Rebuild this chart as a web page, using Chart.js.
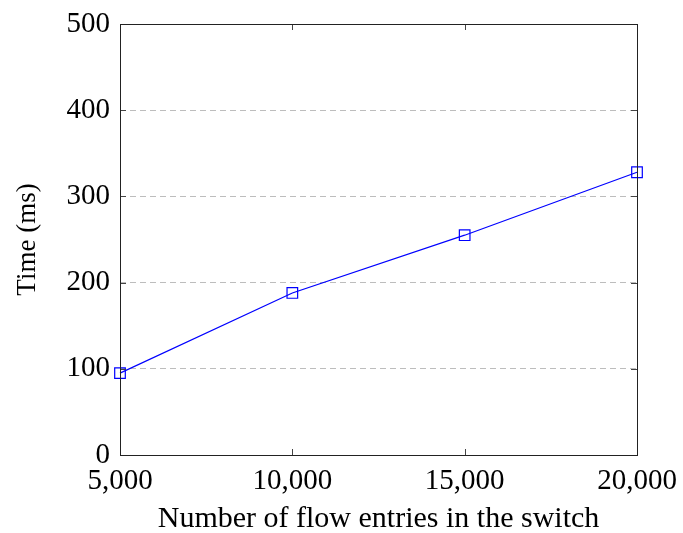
<!DOCTYPE html>
<html>
<head>
<meta charset="utf-8">
<script src="https://cdn.jsdelivr.net/npm/chart.js@4.4.1/dist/chart.umd.min.js"></script>
<style>
  html, body { margin: 0; padding: 0; background: #fff; }
  #wrap { width: 683px; height: 533px; }
</style>
</head>
<body>
<div id="wrap"><canvas id="grafico"></canvas></div>
<script>
// datos
const entradas = [5000, 10000, 15000, 20000];
const tiempos = [95, 188, 255, 328];
const ticksY = [0, 100, 200, 300, 400, 500];
const ticksX = [5000, 10000, 15000, 20000];

const fuente = "'Liberation Serif', 'DejaVu Serif', serif";

// marcas cortas hacia dentro en los cuatro lados
const marcas = {
  id: 'marcas',
  afterDatasetsDraw(chart) {
    const c = chart.ctx;
    const a = chart.chartArea;
    const sx = chart.scales.x, sy = chart.scales.y;
    c.save();
    c.strokeStyle = '#444';
    c.lineWidth = 1;
    c.beginPath();
    ticksX.forEach(v => {
      const px = Math.round(sx.getPixelForValue(v)) + 0.5;
      c.moveTo(px, a.bottom); c.lineTo(px, a.bottom - 6);
      c.moveTo(px, a.top); c.lineTo(px, a.top + 6);
    });
    ticksY.forEach(v => {
      const py = Math.round(sy.getPixelForValue(v)) + 0.5;
      c.moveTo(a.left, py); c.lineTo(a.left + 6, py);
      c.moveTo(a.right, py); c.lineTo(a.right - 6, py);
    });
    c.stroke();
    c.strokeStyle = '#222';
    c.strokeRect(a.left + 0.5, a.top + 0.5, a.right - a.left, a.bottom - a.top);
    c.restore();
  }
};

new Chart(document.getElementById('grafico'), {
  type: 'line',
  data: {
    datasets: [{
      data: entradas.map((x, i) => ({ x: x, y: tiempos[i] })),
      borderColor: 'rgb(0,0,255)',
      borderWidth: 1.2,
      pointStyle: 'rect',
      pointRadius: 7.5,
      pointBorderWidth: 1.2,
      pointBorderColor: 'rgb(0,0,255)',
      pointBackgroundColor: 'rgba(0,0,0,0)',
      tension: 0,
      clip: false
    }]
  },
  options: {
    responsive: true,
    maintainAspectRatio: false,
    animation: false,
    layout: { padding: { top: 24, right: 46, left: 0, bottom: 0 } },
    plugins: { legend: { display: false }, tooltip: { enabled: false } },
    scales: {
      x: {
        type: 'linear',
        min: 5000, max: 20000,
        afterBuildTicks: s => { s.ticks = ticksX.map(v => ({ value: v })); },
        afterFit: s => { s.height = 78; s.paddingLeft = 0; s.paddingRight = 0; },
        grid: { display: false },
        border: { display: false },
        ticks: {
          color: '#000',
          padding: 1,
          maxRotation: 0,
          font: { family: fuente, size: 29 }
        },
        title: {
          display: true,
          text: 'Number of flow entries in the switch',
          color: '#000',
          padding: { top: 0, bottom: -4 },
          font: { family: fuente, size: 30 }
        }
      },
      y: {
        min: 0, max: 500,
        afterBuildTicks: s => { s.ticks = ticksY.map(v => ({ value: v })); },
        afterFit: s => { s.width = 120; s.paddingTop = 0; s.paddingBottom = 0; },
        grid: {
          drawTicks: false,
          color: ctx => (ctx.tick.value === 0 || ctx.tick.value === 500) ? 'rgba(0,0,0,0)' : '#bdbdbd',
          lineWidth: 1
        },
        border: { display: false, dash: [6, 4] },
        ticks: {
          color: '#000',
          padding: 10,
          font: { family: fuente, size: 29 }
        },
        title: {
          display: true,
          text: 'Time (ms)',
          color: '#000',
          padding: { top: 12, bottom: 0 },
          font: { family: fuente, size: 27 }
        }
      }
    }
  },
  plugins: [marcas]
});
</script>
</body>
</html>
